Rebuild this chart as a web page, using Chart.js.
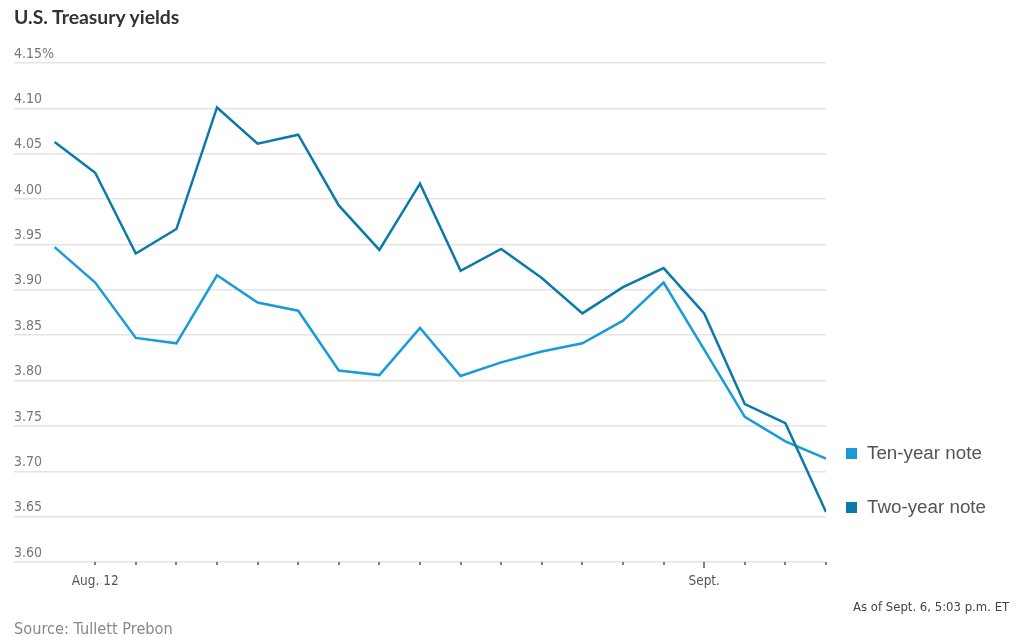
<!DOCTYPE html>
<html><head><meta charset="utf-8">
<script src="https://cdn.jsdelivr.net/npm/chart.js@4.4.0/dist/chart.umd.min.js"></script>
<style>
html,body{margin:0;padding:0;background:#fff;}
#wrap{position:relative;width:1024px;height:637px;overflow:hidden;background:#fff;}
#c{position:absolute;left:0;top:0;width:1024px;height:637px;}
.t{position:absolute;white-space:nowrap;line-height:1;}
#title{left:14px;top:5px;font:bold 19.4px Lato,"Liberation Sans",sans-serif;color:#333;}
#source{left:14px;top:619px;font:16.2px "Liberation Sans Narrow","DejaVu Sans Condensed",sans-serif;color:#888;}
#asof{left:853px;top:599px;font:13px "Liberation Sans Narrow","DejaVu Sans Condensed",sans-serif;color:#444;}
.lg{position:absolute;left:846px;height:20px;display:flex;align-items:center;}
.lg .sw{width:11px;height:11px;margin-right:10px;}
.lg span{font:18.8px "Liberation Sans","DejaVu Sans",sans-serif;color:#555;}
</style></head><body>
<div id="wrap">
<canvas id="c" width="1024" height="637"></canvas>
<div class="t" id="title">U.S. Treasury yields</div>
<div class="t" id="source">Source: Tullett Prebon</div>
<div class="t" id="asof">As of Sept. 6, 5:03 p.m. ET</div>
<div class="lg" id="lg1" style="top:443px"><div class="sw" id="sw1"></div><span id="lt1"></span></div>
<div class="lg" id="lg2" style="top:497px"><div class="sw" id="sw2"></div><span id="lt2"></span></div>
</div>
<script>
const dates = ['Aug. 9','Aug. 12','Aug. 13','Aug. 14','Aug. 15','Aug. 16','Aug. 19','Aug. 20','Aug. 21','Aug. 22','Aug. 23','Aug. 26','Aug. 27','Aug. 28','Aug. 29','Aug. 30','Sept. 3','Sept. 4','Sept. 5','Sept. 6'];
const tenYear = [3.947,3.908,3.847,3.841,3.916,3.886,3.877,3.811,3.806,3.858,3.805,3.820,3.832,3.841,3.866,3.908,3.834,3.760,3.733,3.714];
const twoYear = [4.063,4.029,3.940,3.967,4.101,4.061,4.071,3.993,3.944,4.017,3.921,3.945,3.913,3.874,3.903,3.924,3.874,3.774,3.753,3.655];
const seriesNames = ['Ten-year note','Two-year note'];
const seriesColors = ['#1a9bd9','#0b7aaa'];
const yTicks = [3.60,3.65,3.70,3.75,3.80,3.85,3.90,3.95,4.00,4.05,4.10,4.15];
const xTickDates = ['Aug. 12','Sept. 3'];
const xTickLabels = ['Aug. 12','Sept.'];
const majorTickDate = 'Sept. 3';

document.getElementById('sw1').style.background = seriesColors[0];
document.getElementById('sw2').style.background = seriesColors[1];
document.getElementById('lt1').textContent = seriesNames[0];
document.getElementById('lt2').textContent = seriesNames[1];

const toPts = arr => arr.map((v,i)=>({x:i,y:v}));

const tickPlugin = {
  id:'ticks',
  afterDraw(chart){
    const xs = chart.scales.x, ctx = chart.ctx, y0 = chart.chartArea.bottom;
    ctx.save();
    ctx.strokeStyle = '#555';
    ctx.lineWidth = 1.5;
    for (let i=1;i<dates.length;i++){
      const px = Math.round(xs.getPixelForValue(i));
      const len = dates[i]===majorTickDate ? 6 : 3;
      ctx.beginPath(); ctx.moveTo(px, y0); ctx.lineTo(px, y0+len); ctx.stroke();
    }
    ctx.restore();
  }
};

new Chart(document.getElementById('c'), {
  type:'line',
  data:{
    datasets:[
      {label:seriesNames[1], data:toPts(twoYear), borderColor:seriesColors[1], borderWidth:2.5, pointRadius:0, tension:0, order:0},
      {label:seriesNames[0], data:toPts(tenYear), borderColor:seriesColors[0], borderWidth:2.5, pointRadius:0, tension:0, order:1}
    ]
  },
  options:{
    responsive:false, animation:false,
    layout:{padding:{left:14,right:198,top:63,bottom:35}},
    plugins:{legend:{display:false},tooltip:{enabled:false}},
    scales:{
      x:{type:'linear',min:-1,max:dates.length-1,
        afterFit(s){s.height=40;},
        afterBuildTicks(s){s.ticks = dates.map((d,i)=>({value:i})).slice(1);},
        grid:{display:false},
        border:{display:false},
        ticks:{autoSkip:false,maxRotation:0,padding:3,color:'#555',
          font:{family:'"Liberation Sans Narrow","DejaVu Sans Condensed",sans-serif',size:13.5},
          callback(v){const k = xTickDates.indexOf(dates[v]); return k>=0 ? xTickLabels[k] : '';}}
      },
      y:{min:yTicks[0],max:yTicks[yTicks.length-1],
        afterFit(s){s.width=0;},
        afterBuildTicks(s){s.ticks = yTicks.map(v=>({value:v}));},
        grid:{color:'#e4e4e4',lineWidth:1.5,drawTicks:false},
        border:{display:false},
        ticks:{mirror:true,padding:0,labelOffset:-9,color:'#777',
          font:{family:'"Liberation Sans Narrow","DejaVu Sans Condensed",sans-serif',size:14},
          callback(v){const s = Number(v).toFixed(2); return Math.abs(v-yTicks[yTicks.length-1])<1e-9 ? s+'%' : s;}}
      }
    }
  },
  plugins:[tickPlugin]
});
</script>
</body></html>
